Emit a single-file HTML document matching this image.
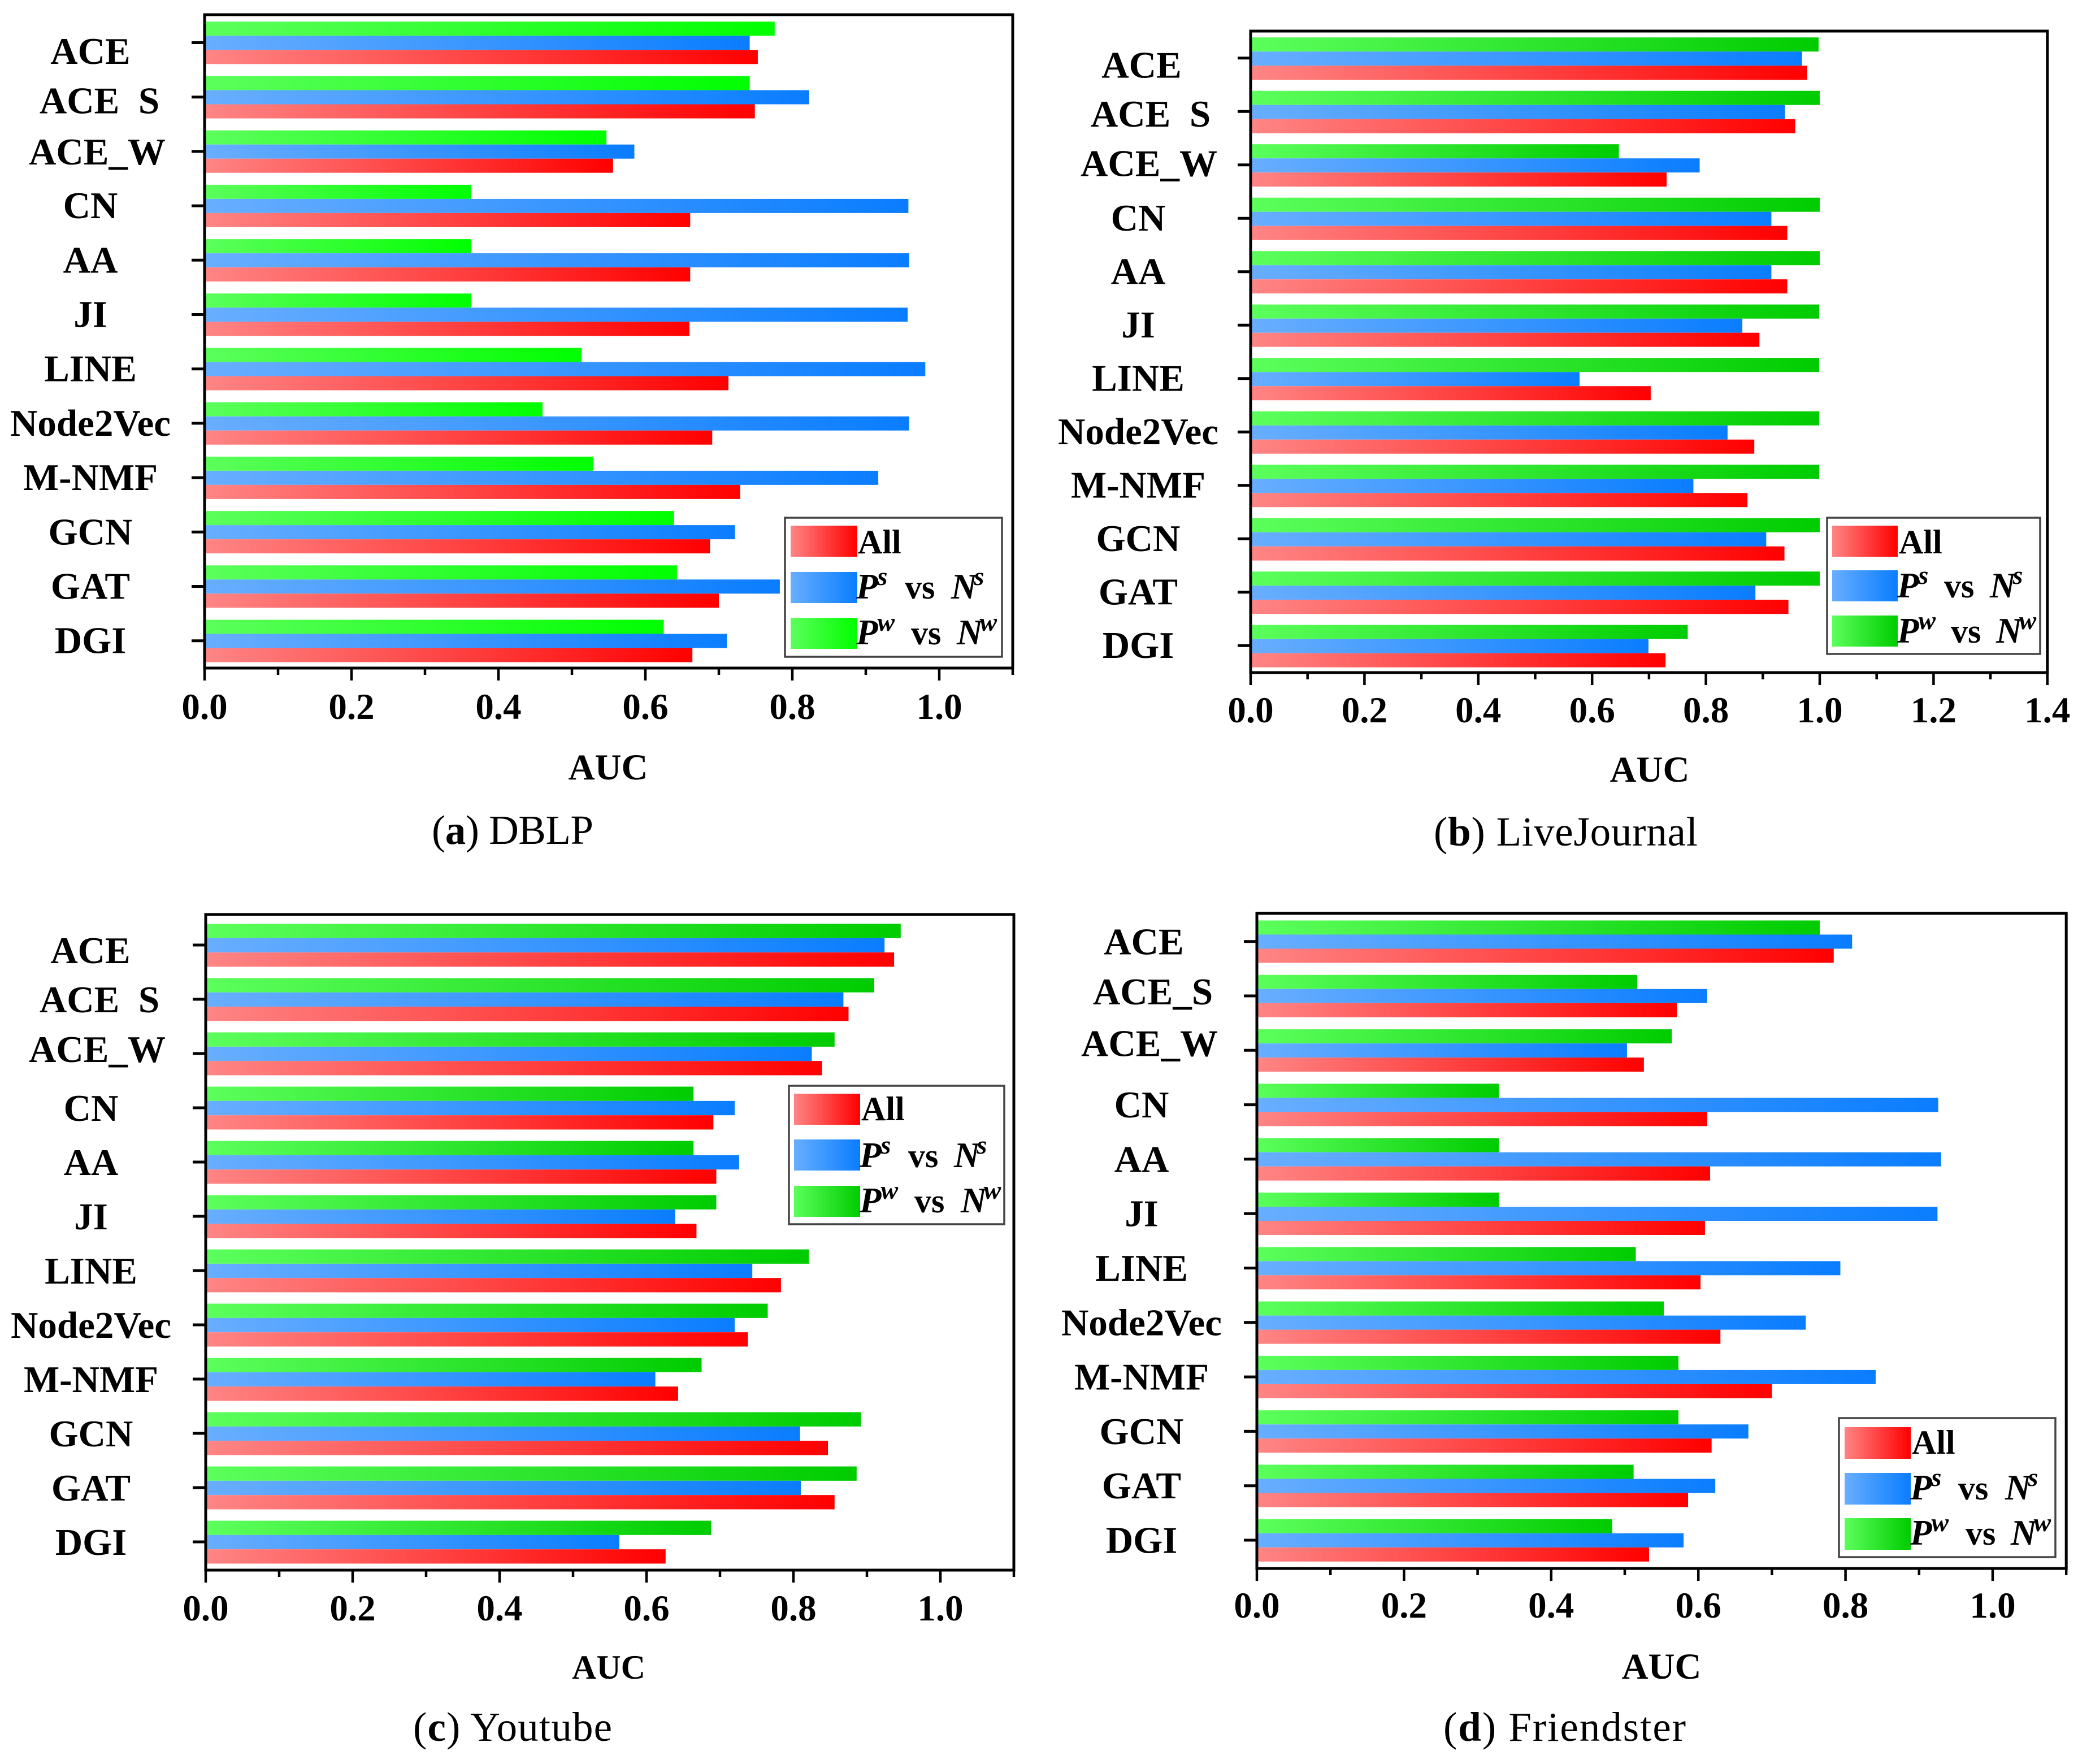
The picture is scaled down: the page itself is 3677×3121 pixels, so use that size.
<!DOCTYPE html>
<html lang="en">
<head>
<meta charset="utf-8">
<title>AUC comparison across four datasets</title>
<style>
html,body{margin:0;padding:0;background:#fff;}
#figure{display:block;width:3677px;height:3121px;background:#fff;}
text{font-family:"Liberation Serif","DejaVu Serif",serif;fill:#000;white-space:pre;}
</style>
</head>
<body>
<svg id="figure" xmlns="http://www.w3.org/2000/svg" width="3677" height="3121" viewBox="0 0 3677 3121">
<defs id="gradient-defs"></defs>
</svg>
<script>
const categories = ['ACE','ACE_S','ACE_W','CN','AA','JI','LINE','Node2Vec','M-NMF','GCN','GAT','DGI'];
const tickLabelsShort = ['0.0','0.2','0.4','0.6','0.8','1.0'];
const tickLabelsLong = ['0.0','0.2','0.4','0.6','0.8','1.0','1.2','1.4'];

const dblpAll    = [0.753,0.749,0.556,0.661,0.661,0.660,0.713,0.691,0.729,0.688,0.700,0.664];
const dblpStrong = [0.742,0.823,0.585,0.958,0.959,0.957,0.981,0.959,0.917,0.722,0.783,0.711];
const dblpWeak   = [0.776,0.742,0.547,0.363,0.363,0.363,0.513,0.460,0.529,0.639,0.643,0.625];

const liveJournalAll    = [0.978,0.957,0.731,0.943,0.943,0.894,0.703,0.885,0.873,0.938,0.945,0.729];
const liveJournalStrong = [0.969,0.939,0.789,0.915,0.915,0.864,0.578,0.838,0.778,0.906,0.887,0.699];
const liveJournalWeak   = [0.998,1.000,0.647,1.000,1.000,0.999,0.999,0.999,0.999,1.000,1.000,0.768];

const youtubeAll    = [0.937,0.875,0.839,0.691,0.695,0.668,0.783,0.738,0.643,0.847,0.856,0.626];
const youtubeStrong = [0.924,0.868,0.825,0.720,0.726,0.639,0.744,0.720,0.612,0.809,0.810,0.563];
const youtubeWeak   = [0.946,0.910,0.856,0.664,0.664,0.695,0.821,0.765,0.675,0.892,0.886,0.688];

const friendsterAll    = [0.784,0.571,0.526,0.612,0.616,0.609,0.603,0.630,0.700,0.618,0.586,0.533];
const friendsterStrong = [0.809,0.612,0.503,0.926,0.930,0.925,0.793,0.746,0.841,0.668,0.623,0.580];
const friendsterWeak   = [0.765,0.517,0.564,0.329,0.329,0.329,0.515,0.553,0.573,0.573,0.512,0.483];

const svgNS = 'http://www.w3.org/2000/svg';
const figure = document.getElementById('figure');
const defs = document.getElementById('gradient-defs');

function make(tag, attrs, parent, text) {
  const el = document.createElementNS(svgNS, tag);
  for (const k in attrs) el.setAttribute(k, attrs[k]);
  if (text !== undefined) el.textContent = text;
  (parent || figure).appendChild(el);
  return el;
}

function gradient(id, from, to) {
  const g = make('linearGradient', {id: id, x1: 0, y1: 0, x2: 1, y2: 0}, defs);
  make('stop', {offset: '0', 'stop-color': from}, g);
  make('stop', {offset: '1', 'stop-color': to}, g);
}
gradient('grad-red', '#ff8585', '#ff0000');
gradient('grad-blue', '#68aeff', '#0a7dff');
gradient('grad-green-bright', '#5cff5c', '#00ff00');
gradient('grad-green-dark', '#5cff5c', '#00cc00');

const panels = [
  {key:'dblp', caption:'DBLP', letter:'a', all:dblpAll, strong:dblpStrong, weak:dblpWeak, ticks:tickLabelsShort,
   x0:362, unit:1300, xMax:1.1, top:26, bottom:1182, firstRow:75.5, rowStep:96.2, barShift:0.3, barH:25,
   green:'grad-green-bright', hideUnderscore:true,
   labelCenter:160, firstCenters:[160,176,172], firstDrops:[37.5,29,23], labelDrop:22,
   tickBase:1272, auc:[1076,1379], aucSize:65, cap:[764,1050,1493],
   legend:{x:1389,y:916,w:384,h:246,sx:1399,sw:118,sy:[930,1012,1093],sh:55,tx:1518,base:[979,1059,1140],vs:[1601,1612],n:[1683,1693]}},
  {key:'livejournal', caption:'LiveJournal', letter:'b', all:liveJournalAll, strong:liveJournalStrong, weak:liveJournalWeak, ticks:tickLabelsLong,
   x0:2213, unit:1007, xMax:1.4, top:55, bottom:1190, firstRow:102.7, rowStep:94.5, barShift:1, barH:25,
   green:'grad-green-dark', hideUnderscore:true,
   labelCenter:2014, firstCenters:[2020,2036,2033], firstDrops:[35,27,20], labelDrop:22,
   tickBase:1278, auc:[2919,1383], aucSize:65, cap:[2537,3004,1496],
   legend:{x:3233,y:916,w:377,h:241,sx:3242,sw:116,sy:[930,1009,1089],sh:55,tx:3360,base:[979,1057,1137],vs:[3440,3452],n:[3521,3532]}},
  {key:'youtube', caption:'Youtube', letter:'c', all:youtubeAll, strong:youtubeStrong, weak:youtubeWeak, ticks:tickLabelsShort,
   x0:364, unit:1300, xMax:1.1, top:1618, bottom:2778, firstRow:1672, rowStep:96, barShift:0.5, barH:25.3,
   green:'grad-green-dark', hideUnderscore:true,
   labelCenter:161, firstCenters:[160,176,172], firstDrops:[32,23,15], labelDrop:23,
   tickBase:2867, auc:[1077,2970], aucSize:60, cap:[731,1083,3080],
   legend:{x:1396,y:1921,w:381,h:245,sx:1405,sw:117,sy:[1935,2016,2098],sh:55,tx:1524,base:[1982,2065,2145],vs:[1607,1618],n:[1688,1700]}},
  {key:'friendster', caption:'Friendster', letter:'d', all:friendsterAll, strong:friendsterStrong, weak:friendsterWeak, ticks:tickLabelsShort,
   x0:2224, unit:1302, xMax:1.1, top:1616, bottom:2775, firstRow:1665.7, rowStep:96.3, barShift:0.3, barH:25,
   green:'grad-green-dark', hideUnderscore:false,
   labelCenter:2020, firstCenters:[2024,2040,2034], firstDrops:[23,15,10], labelDrop:22.5,
   tickBase:2862, auc:[2940,2970], aucSize:65, cap:[2554,2983,3080],
   legend:{x:3254,y:2509,w:383,h:246,sx:3264,sw:117,sy:[2525,2606,2686],sh:56,tx:3383,base:[2572,2653,2733],vs:[3465,3478],n:[3548,3558]}}
];

function drawLegendEntry(group, L, row, gradId, main, sup, name) {
  const swatch = make('rect', {x:L.sx, y:L.sy[row], width:L.sw, height:L.sh, fill:'url(#'+gradId+')'}, group);
  
  
  if (!sup) {
    const label = make('text', {x:L.tx, y:L.base[row], 'font-size':60, 'font-weight':'bold'}, group, main);
    
    
    return;
  }
  const supDy = -24;
  const pos = row - 1;
  const left = make('text', {x:L.tx - 3, y:L.base[row], 'font-size':63, 'font-weight':'bold', 'font-style':'italic'}, group);
  
  
  make('tspan', {}, left, 'P');
  make('tspan', {'font-size':46, dy:supDy, dx:-1}, left, sup);
  const vs = make('text', {x:L.vs[pos], y:L.base[row], 'font-size':60, 'font-weight':'bold'}, group, 'vs');
  
  
  const right = make('text', {x:L.n[pos], y:L.base[row], 'font-size':63, 'font-weight':'bold', 'font-style':'italic'}, group);
  
  
  make('tspan', {}, right, 'N');
  make('tspan', {'font-size':46, dy:supDy, dx:-5}, right, sup);
}

panels.forEach(function (p) {
  const panel = make('g', {});
  
  

  const xScale = function (v) { return p.x0 + v * p.unit; };
  const rowY = function (i) { return p.firstRow + i * p.rowStep; };
  const right = xScale(p.xMax);

  categories.forEach(function (cat, i) {
    const cy = rowY(i) + p.barShift;
    const slug = cat.toLowerCase().replace('_', '-');
    const weakBar = make('rect', {x:p.x0, y:cy - 1.5 * p.barH, width:xScale(p.weak[i]) - p.x0, height:p.barH, fill:'url(#' + p.green + ')'}, panel);
    
    
    const strongBar = make('rect', {x:p.x0, y:cy - 0.5 * p.barH, width:xScale(p.strong[i]) - p.x0, height:p.barH, fill:'url(#grad-blue)'}, panel);
    
    
    const allBar = make('rect', {x:p.x0, y:cy + 0.5 * p.barH, width:xScale(p.all[i]) - p.x0, height:p.barH, fill:'url(#grad-red)'}, panel);
    
    

    const tick = make('line', {x1:p.x0 - 23, x2:p.x0, y1:rowY(i), y2:rowY(i), stroke:'#000', 'stroke-width':5}, panel);
    
    

    const cx = i < 3 ? p.firstCenters[i] : p.labelCenter;
    const drop = i < 3 ? p.firstDrops[i] : p.labelDrop;
    const label = make('text', {x:cx, y:rowY(i) + drop, 'font-size':67, 'font-weight':'bold', 'text-anchor':'middle'}, panel);
    
    
    if (p.hideUnderscore && cat === 'ACE_S') {
      make('tspan', {}, label, 'ACE');
      make('tspan', {style:'fill:#fff'}, label, '_');
      make('tspan', {}, label, 'S');
    } else {
      label.textContent = cat;
    }
  });

  const frame = make('rect', {x:p.x0, y:p.top, width:right - p.x0, height:p.bottom - p.top, fill:'none', stroke:'#000', 'stroke-width':5}, panel);
  
  

  const minorCount = Math.round(p.xMax * 10);
  for (let m = 0; m <= minorCount; m++) {
    if (m % 2 === 0 && m / 10 <= parseFloat(p.ticks[p.ticks.length - 1])) continue;
    const mx = xScale(m / 10);
    const minor = make('line', {x1:mx, x2:mx, y1:p.bottom, y2:p.bottom + 12, stroke:'#000', 'stroke-width':4.5}, panel);
    
    
  }
  p.ticks.forEach(function (t) {
    const tx = xScale(parseFloat(t));
    const major = make('line', {x1:tx, x2:tx, y1:p.bottom, y2:p.bottom + 22, stroke:'#000', 'stroke-width':4.5}, panel);
    
    
    const lab = make('text', {x:tx, y:p.tickBase, 'font-size':65, 'font-weight':'bold', 'text-anchor':'middle'}, panel, t);
    
    
  });

  const axisTitle = make('text', {x:p.auc[0], y:p.auc[1], 'font-size':p.aucSize, 'font-weight':'bold', 'text-anchor':'middle'}, panel, 'AUC');
  
  

  const caption = make('text', {x:p.cap[0], y:p.cap[2], 'font-size':73, textLength:p.cap[1] - p.cap[0], lengthAdjust:'spacing'}, panel);
  
  
  make('tspan', {}, caption, '(');
  make('tspan', {'font-weight':'bold'}, caption, p.letter);
  make('tspan', {}, caption, ') ' + p.caption);

  const legend = make('g', {}, panel);
  
  
  const L = p.legend;
  const box = make('rect', {x:L.x, y:L.y, width:L.w, height:L.h, fill:'#fff', stroke:'#444', 'stroke-width':3.5}, legend);
  
  
  drawLegendEntry(legend, L, 0, 'grad-red', 'All', '', 'legend-entry-all');
  drawLegendEntry(legend, L, 1, 'grad-blue', 'P', 's', 'legend-entry-strong');
  drawLegendEntry(legend, L, 2, p.green, 'P', 'w', 'legend-entry-weak');
});
</script>
</body>
</html>
